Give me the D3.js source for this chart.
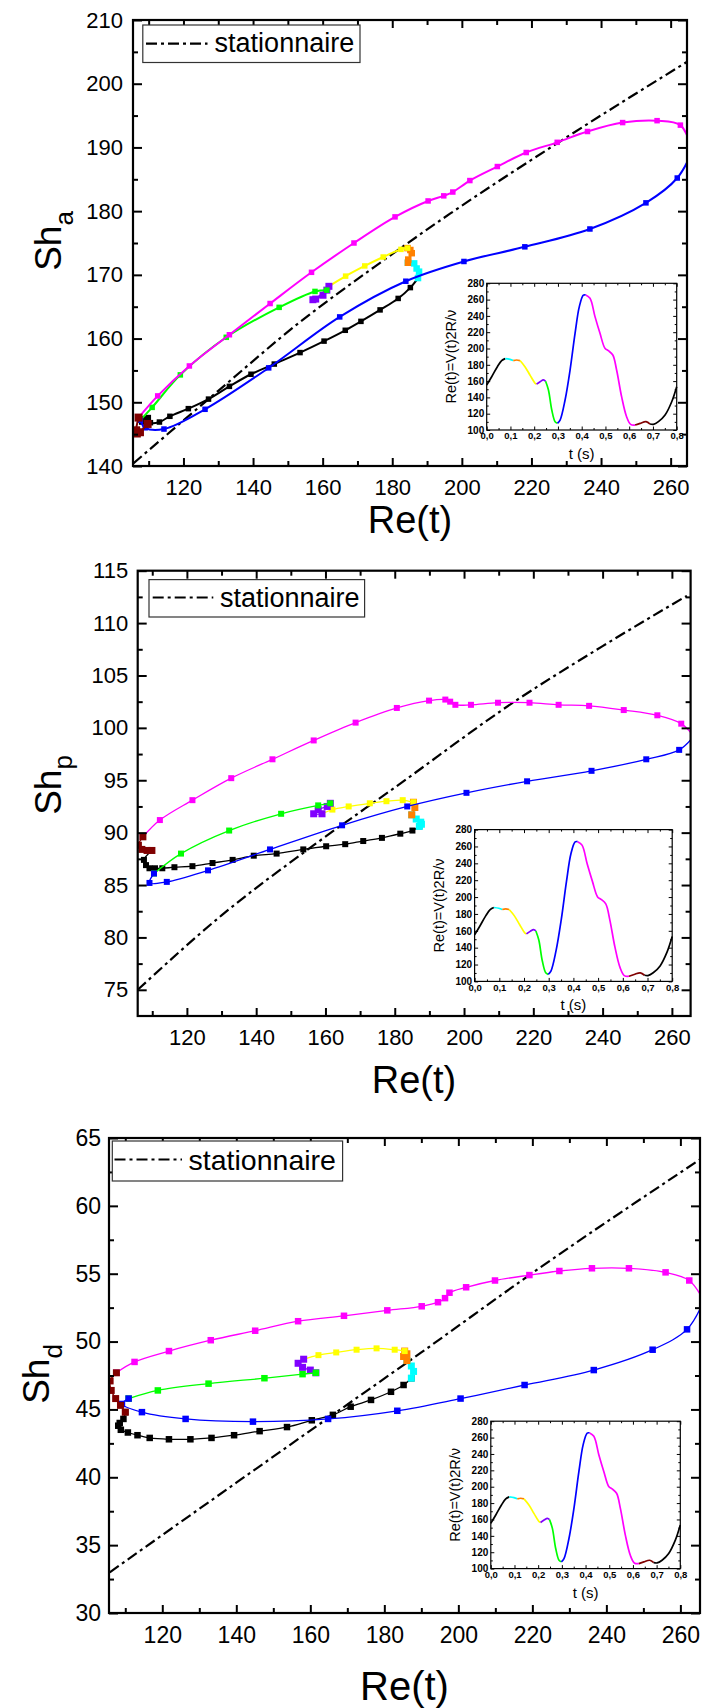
<!DOCTYPE html>
<html><head><meta charset="utf-8">
<script src="https://cdn.jsdelivr.net/npm/d3@7"></script>
<style>
body{margin:0;background:#fff;}
svg{display:block;font-family:"Liberation Sans",Arial,sans-serif;}
</style></head><body>
<svg id="c" width="704" height="1708"></svg>
<script>
// ---------- tick labels ----------
const xTicks = [120,140,160,180,200,220,240,260];
const aTicks = [140,150,160,170,180,190,200,210];
const pTicks = [75,80,85,90,95,100,105,110,115];
const dTicks = [30,35,40,45,50,55,60,65];
const insetXTicks = [0,0.1,0.2,0.3,0.4,0.5,0.6,0.7,0.8];
const insetYTicks = [100,120,140,160,180,200,220,240,260,280];
const legendLabel = "stationnaire";

// ---------- panel a : Sh_a vs Re ----------
const aStat = [[105.6,140.4],[130,151.8],[153.5,162.6],[175,171.3],[196.6,179.6],[228.4,191.0],[265.2,203.6]];
const aBlack = [[109.7,146.6],[108.0,146.9],[108.6,147.4],[109.9,147.6],[110.5,146.8],[113.1,146.9],[116.1,147.8],[121.4,149.0],[127.2,150.5],[133.2,152.5],[139.4,154.4],[146.1,156.0],[153.5,157.8],[160.4,159.6],[166.5,161.3],[171.0,162.7],[176.5,164.5],[181.7,166.3],[185.2,168.0],[187.4,169.5]];
const aCyan = [[187.4,169.5],[187.7,170.5],[187.0,171.0],[186.3,171.8],[184.5,171.9]];
const aOrange = [[184.5,171.9],[184.6,172.4],[185.6,173.4],[185.2,173.9],[184.4,174.2]];
const aYellow = [[184.4,174.2],[182.5,174.0],[177.4,172.8],[172.1,171.4],[166.6,169.8],[161.8,168.2]];
const aPurple = [[161.8,168.2],[158.0,166.2],[157.2,166.1],[160.1,166.8],[161.2,167.6]];
const aGreen = [[161.2,167.6],[157.8,167.4],[147.5,164.9],[132.3,160.2],[119.1,154.3],[111.0,149.2],[107.6,147.2]];
const aBlue = [[107.6,147.2],[109.0,146.0],[114.4,145.8],[126.2,148.9],[144.5,155.4],[164.9,163.4],[183.9,169.0],[200.6,172.1],[218.1,174.4],[236.8,177.2],[252.9,181.3],[261.9,185.2],[266.3,189.5]];
const aMagenta = [[266.3,189.5],[262.8,193.5],[256.1,194.2],[246.2,193.9],[236.1,192.5],[227.4,190.8],[218.5,189.2],[210.2,187.0],[202.3,184.8],[197.4,183.0],[194.8,182.4],[190.3,181.6],[180.8,179.1],[169.0,175.0],[156.8,170.4],[144.9,165.5],[133.2,160.6],[121.7,155.7],[112.6,151.0],[107.1,147.6]];
const aDarkred = [[107.1,147.6],[106.4,145.6],[106.6,145.1],[107.5,145.3],[109.7,146.6]];

// ---------- panel p : Sh_p vs Re ----------
const pStat = [[105.8,75.0],[130,82.1],[156.6,88.8],[180,94.3],[215,102.6],[240,107.8],[264.3,112.6]];
const pBlack = [[109.9,88.3],[107.6,87.4],[108.2,86.9],[109.2,86.6],[110.8,86.6],[112.9,86.6],[116.4,86.7],[121.6,86.8],[127.4,87.1],[133.2,87.4],[139.3,87.8],[145.9,88.0],[153.6,88.4],[160.2,88.7],[165.7,88.9],[170.9,89.2],[176.3,89.5],[181.6,89.9],[185.1,90.2],[187.1,90.6]];
const pCyan = [[187.1,90.6],[187.7,90.8],[187.5,91.0],[186.2,91.3],[184.9,91.7]];
const pOrange = [[184.9,91.7],[185.8,92.4],[185.4,92.9]];
const pYellow = [[185.4,92.9],[182.3,93.1],[177.6,93.0],[172.8,92.8],[166.7,92.5],[162.0,92.2],[159.0,91.8]];
const pPurple = [[159.0,91.8],[156.6,91.8],[157.9,92.2],[160.5,92.5],[161.4,92.8]];
const pGreen = [[161.4,92.8],[157.9,92.6],[147.2,91.8],[132.2,90.2],[118.3,88.0],[110.5,86.1]];
const pBlue = [[110.5,86.1],[109.2,85.2],[114.2,85.3],[126.1,86.4],[144.0,88.4],[164.8,90.7],[183.6,92.5],[200.7,93.8],[218.2,94.9],[236.8,95.9],[252.6,97.0],[262.1,97.9],[266.3,99.2]];
const pMagenta = [[266.3,99.2],[262.7,100.4],[255.8,101.2],[246.1,101.7],[236.1,102.1],[227.3,102.2],[218.9,102.4],[209.8,102.4],[202.0,102.2],[197.5,102.2],[196.0,102.5],[194.6,102.7],[189.9,102.6],[180.6,101.9],[168.7,100.5],[156.6,98.8],[144.7,97.0],[132.8,95.2],[121.6,93.1],[112.2,91.2],[107.3,89.6]];
const pDarkred = [[107.3,89.6],[106.0,88.8],[107.0,88.4],[108.5,88.3],[109.9,88.3]];

// ---------- panel d : Sh_d vs Re ----------
const dStat = [[105.8,33.0],[140,39.6],[165.5,44.5],[190,49.2],[219.2,54.9],[265.2,63.4]];
const dBlack = [[110.0,44.8],[109.5,44.3],[108.5,44.0],[108.1,43.8],[108.8,43.5],[110.7,43.3],[113.3,43.1],[116.6,42.9],[121.8,42.8],[127.6,42.8],[133.3,42.9],[139.4,43.1],[146.3,43.4],[153.7,43.7],[160.4,44.2],[166.1,44.6],[170.9,45.2],[176.4,45.7],[181.8,46.3],[185.2,46.8],[187.3,47.3]];
const dCyan = [[187.3,47.3],[187.9,47.8],[187.3,48.2],[186.1,48.6]];
const dOrange = [[186.1,48.6],[185.2,48.9],[186.1,49.1],[185.5,49.3]];
const dYellow = [[185.5,49.3],[182.8,49.4],[177.9,49.5],[172.5,49.4],[167.0,49.2],[162.2,49.0],[158.2,48.7]];
const dPurple = [[158.2,48.7],[156.7,48.4],[157.9,48.1],[160.0,47.9],[161.5,47.7]];
const dGreen = [[161.5,47.7],[157.9,47.6],[147.6,47.3],[132.5,46.9],[118.8,46.4],[110.9,45.8]];
const dBlue = [[110.9,45.8],[109.1,45.4],[114.5,44.8],[126.3,44.3],[144.5,44.1],[164.8,44.3],[183.5,44.9],[200.6,45.8],[217.9,46.8],[236.6,47.9],[252.5,49.4],[261.8,50.9],[266.3,53.0]];
const dMagenta = [[266.3,53.0],[262.4,54.5],[256.0,55.1],[246.1,55.4],[236.1,55.4],[227.3,55.2],[219.2,54.9],[209.9,54.5],[202.1,54.0],[197.6,53.6],[196.4,53.2],[194.5,52.9],[190.1,52.6],[180.8,52.3],[169.1,51.9],[156.7,51.5],[145.1,50.8],[133.1,50.1],[121.8,49.3],[112.5,48.5],[107.6,47.7]];
const dDarkred = [[107.6,47.7],[105.9,47.1],[106.2,46.4],[107.4,45.8],[108.7,45.3],[110.0,44.8]];

// ---------- inset : Re(t) vs t ----------
const insetBlackA = [[0,155.2],[0.021,165.4],[0.045,177.7],[0.063,185.1],[0.078,187.6]];
const insetCyan = [[0.078,187.6],[0.098,186.7],[0.112,185.2]];
const insetOrange = [[0.112,185.2],[0.126,185.9],[0.14,185.2]];
const insetYellow = [[0.14,185.2],[0.161,177.7],[0.182,167.5],[0.204,157.3],[0.21,156.3]];
const insetPurple = [[0.21,156.3],[0.225,159.3],[0.239,161.4],[0.248,159.8]];
const insetGreen = [[0.248,159.8],[0.26,149.1],[0.274,124.5],[0.288,110.2],[0.298,108.3]];
const insetBlue = [[0.298,108.3],[0.309,112.2],[0.33,136.8],[0.351,173.6],[0.372,218.6],[0.39,251.4],[0.407,265.5],[0.417,265.7]];
const insetMagenta = [[0.417,265.7],[0.435,261.6],[0.456,239.1],[0.477,218.6],[0.498,200.2],[0.512,197.3],[0.531,192.0],[0.547,173.6],[0.568,140.9],[0.589,116.3],[0.606,106.9],[0.625,106.1]];
const insetDarkred = [[0.625,106.1],[0.646,108.2],[0.671,110.2],[0.688,107.3]];
const insetBlackB = [[0.688,107.3],[0.702,106.9],[0.723,110.2],[0.751,118.4],[0.779,134.7],[0.8,153.2]];

// ---------- colours ----------
const C = {black:"#000000", cyan:"#00ffff", orange:"#ff8000", yellow:"#ffff00", purple:"#8000ff",
           green:"#00ff00", blue:"#0000ff", magenta:"#ff00ff", darkred:"#800000"};

const svg = d3.select("#c");
const FONT = "'Liberation Sans', Arial, sans-serif";
const commaFmt = d => d3.format(".1f")(d).replace(".", ",");

const insetSegs = [[insetBlackA,C.black],[insetCyan,C.cyan],[insetOrange,C.orange],[insetYellow,C.yellow],
  [insetPurple,C.purple],[insetGreen,C.green],[insetBlue,C.blue],[insetMagenta,C.magenta],[insetDarkred,C.darkred],[insetBlackB,C.black]];

function styleAxis(a, fs, bold, tw) {
  a.select(".domain").remove();
  a.attr("font-family", FONT).attr("font-size", fs);
  a.selectAll("line").attr("stroke", "#000").attr("stroke-width", tw);
  a.selectAll("text").attr("fill", "#000").attr("font-weight", bold ? "bold" : "normal");
  return a;
}

function drawInset(g, b) {
  const x = d3.scaleLinear().domain([0, 0.8]).range([b.L, b.R]);
  const y = d3.scaleLinear().domain([100, 280]).range([b.B, b.T]);
  g.append("rect").attr("x", b.L).attr("y", b.T).attr("width", b.R - b.L).attr("height", b.B - b.T).attr("fill", "#fff");
  const line = d3.line().x(d => x(d[0])).y(d => y(d[1])).curve(d3.curveCatmullRom.alpha(0.5));
  insetSegs.forEach(([pts, col]) => {
    g.append("path").datum(pts).attr("d", line).attr("fill", "none").attr("stroke", col).attr("stroke-width", 1.7);
  });
  const xMinor = d3.range(0.05, 0.8, 0.1);
  const yMinor = d3.range(110, 280, 20);
  styleAxis(g.append("g").attr("transform", `translate(0,${b.B})`).call(d3.axisBottom(x).tickValues(insetXTicks).tickSize(-3.5).tickPadding(2.5).tickFormat(commaFmt)), 9.5, true, 1);
  styleAxis(g.append("g").attr("transform", `translate(0,${b.B})`).call(d3.axisBottom(x).tickValues(xMinor).tickSize(-2).tickFormat("")), 9.5, true, 1);
  styleAxis(g.append("g").attr("transform", `translate(0,${b.T})`).call(d3.axisTop(x).tickValues(insetXTicks).tickSize(-3.5).tickFormat("")), 9.5, true, 1);
  styleAxis(g.append("g").attr("transform", `translate(0,${b.T})`).call(d3.axisTop(x).tickValues(xMinor).tickSize(-2).tickFormat("")), 9.5, true, 1);
  styleAxis(g.append("g").attr("transform", `translate(${b.L},0)`).call(d3.axisLeft(y).tickValues(insetYTicks).tickSize(-3.5).tickPadding(2.5).tickFormat(d3.format("d"))), 10, true, 1);
  styleAxis(g.append("g").attr("transform", `translate(${b.L},0)`).call(d3.axisLeft(y).tickValues(yMinor).tickSize(-2).tickFormat("")), 10, true, 1);
  styleAxis(g.append("g").attr("transform", `translate(${b.R},0)`).call(d3.axisRight(y).tickValues(insetYTicks).tickSize(-3.5).tickFormat("")), 10, true, 1);
  styleAxis(g.append("g").attr("transform", `translate(${b.R},0)`).call(d3.axisRight(y).tickValues(yMinor).tickSize(-2).tickFormat("")), 10, true, 1);
  g.append("rect").attr("x", b.L).attr("y", b.T).attr("width", b.R - b.L).attr("height", b.B - b.T)
    .attr("fill", "none").attr("stroke", "#000").attr("stroke-width", 1.2);
  g.append("text").attr("transform", `translate(${b.L - 31},${(b.T + b.B) / 2}) rotate(-90)`)
    .attr("text-anchor", "middle").attr("font-family", FONT).attr("font-size", 14.5).attr("fill", "#000")
    .text("Re(t)=V(t)2R/ν");
  g.append("text").attr("x", (b.L + b.R) / 2).attr("y", b.B + 29).attr("text-anchor", "middle")
    .attr("font-family", FONT).attr("font-size", 15).attr("fill", "#000").text("t (s)");
}

function drawPanel(p) {
  const g = svg.append("g");
  const x = d3.scaleLinear().domain(p.xDomain).range([p.L, p.R]);
  const y = d3.scaleLinear().domain(p.yDomain).range([p.B, p.T]);
  const cid = "clip-" + p.id;
  g.append("clipPath").attr("id", cid).append("rect").attr("x", p.L).attr("y", p.T).attr("width", p.R - p.L).attr("height", p.B - p.T);
  const plot = g.append("g").attr("clip-path", `url(#${cid})`);
  plot.append("path").datum(p.stat).attr("fill", "none").attr("stroke", "#000").attr("stroke-width", 2.2)
    .attr("stroke-dasharray", "11,4,3,4")
    .attr("d", d3.line().x(d => x(d[0])).y(d => y(d[1])).curve(d3.curveMonotoneX));
  const line = d3.line().x(d => x(d[0])).y(d => y(d[1])).curve(d3.curveCatmullRom.alpha(0.5));
  p.series.forEach(([pts, col, ms]) => {
    plot.append("path").datum(pts).attr("d", line).attr("fill", "none").attr("stroke", col)
      .attr("stroke-width", p.lw).attr("stroke-linejoin", "round");
    plot.selectAll(null).data(pts).enter().append("rect")
      .attr("x", d => x(d[0]) - ms / 2).attr("y", d => y(d[1]) - ms / 2)
      .attr("width", ms).attr("height", ms).attr("fill", col);
  });

  // axes (inward ticks on all four sides)
  const xMinor = d3.range(110, 265, 20);
  const yStep = p.yTicks[1] - p.yTicks[0];
  const yMinor = p.yTicks.slice(0, -1).map(v => v + yStep / 2);
  styleAxis(g.append("g").attr("transform", `translate(0,${p.B})`).call(d3.axisBottom(x).tickValues(xTicks).tickSize(-8).tickPadding(13.5).tickFormat(d3.format("d"))), p.fs, false, 2);
  styleAxis(g.append("g").attr("transform", `translate(0,${p.B})`).call(d3.axisBottom(x).tickValues(xMinor).tickSize(-5).tickFormat("")), p.fs, false, 2);
  styleAxis(g.append("g").attr("transform", `translate(0,${p.T})`).call(d3.axisTop(x).tickValues(xTicks).tickSize(-8).tickFormat("")), p.fs, false, 2);
  styleAxis(g.append("g").attr("transform", `translate(0,${p.T})`).call(d3.axisTop(x).tickValues(xMinor).tickSize(-5).tickFormat("")), p.fs, false, 2);
  styleAxis(g.append("g").attr("transform", `translate(${p.L},0)`).call(d3.axisLeft(y).tickValues(p.yTicks).tickSize(-9).tickPadding(p.ypad).tickFormat(d3.format("d"))), p.fs, false, 2);
  styleAxis(g.append("g").attr("transform", `translate(${p.L},0)`).call(d3.axisLeft(y).tickValues(yMinor).tickSize(-5).tickFormat("")), p.fs, false, 2);
  styleAxis(g.append("g").attr("transform", `translate(${p.R},0)`).call(d3.axisRight(y).tickValues(p.yTicks).tickSize(-9).tickFormat("")), p.fs, false, 2);
  styleAxis(g.append("g").attr("transform", `translate(${p.R},0)`).call(d3.axisRight(y).tickValues(yMinor).tickSize(-5).tickFormat("")), p.fs, false, 2);
  g.append("rect").attr("x", p.L).attr("y", p.T).attr("width", p.R - p.L).attr("height", p.B - p.T)
    .attr("fill", "none").attr("stroke", "#000").attr("stroke-width", 2.2);

  // titles
  g.append("text").attr("x", p.xt[0]).attr("y", p.xt[1]).attr("text-anchor", "middle")
    .attr("font-family", FONT).attr("font-size", p.xtfs).attr("fill", "#000").text("Re(t)");
  const yt = g.append("text").attr("transform", `translate(${p.yt[0]},${p.yt[1]}) rotate(-90)`)
    .attr("text-anchor", "middle").attr("font-family", FONT).attr("font-size", 37).attr("fill", "#000");
  yt.append("tspan").text("Sh");
  yt.append("tspan").attr("font-size", 26).attr("dy", p.subdy).text(p.sub);

  // legend
  const lg = p.leg;
  g.append("rect").attr("x", lg[0]).attr("y", lg[1]).attr("width", lg[2] - lg[0]).attr("height", lg[3] - lg[1])
    .attr("fill", "#fff").attr("stroke", "#333").attr("stroke-width", 1.2);
  g.append("line").attr("x1", lg[4]).attr("x2", lg[5]).attr("y1", lg[6]).attr("y2", lg[6])
    .attr("stroke", "#000").attr("stroke-width", 2.2).attr("stroke-dasharray", "11,4,3,4");
  g.append("text").attr("x", lg[7]).attr("y", lg[8]).attr("font-family", FONT).attr("font-size", lg[9])
    .attr("fill", "#000").text(legendLabel);

  drawInset(g, p.inset);
}

drawPanel({id:"a", L:133, R:687, T:20, B:466, xDomain:[105.5,264.7], yDomain:[140,210], yTicks:aTicks,
  lw:2, fs:22, ypad:10, xt:[410,533], xtfs:38, yt:[60.5,241], sub:"a", subdy:12,
  stat:aStat,
  series:[[aBlack,C.black,5.5],[aCyan,C.cyan,6.5],[aOrange,C.orange,6.5],[aYellow,C.yellow,5.5],[aPurple,C.purple,7],
          [aGreen,C.green,5.5],[aBlue,C.blue,5.5],[aMagenta,C.magenta,5.5],[aDarkred,C.darkred,8]],
  leg:[142.8,25,360,62.5,146,207.5,43.6,214.6,52,27],
  inset:{L:486.7,R:676.7,T:283.3,B:430}});

drawPanel({id:"p", L:137.7, R:690.6, T:570.7, B:1016, xDomain:[105.8,265.4], yDomain:[72.5,115], yTicks:pTicks,
  lw:1.3, fs:22, ypad:9.5, xt:[414,1093], xtfs:38, yt:[60.6,785], sub:"p", subdy:11,
  stat:pStat,
  series:[[pBlack,C.black,6],[pCyan,C.cyan,7],[pOrange,C.orange,7],[pYellow,C.yellow,6],[pPurple,C.purple,7],
          [pGreen,C.green,6],[pBlue,C.blue,6],[pMagenta,C.magenta,6],[pDarkred,C.darkred,7]],
  leg:[149,579.6,364.6,617,152.7,213.3,597.5,220,606.5,27],
  inset:{L:474.6,R:672.2,T:829.6,B:981.4}});

drawPanel({id:"d", L:109, R:700, T:1138, B:1613, xDomain:[105.6,265.3], yDomain:[30,65], yTicks:dTicks,
  lw:1.3, fs:23, ypad:8, xt:[404.5,1700], xtfs:40, yt:[48.5,1374], sub:"d", subdy:13,
  stat:dStat,
  series:[[dBlack,C.black,6.5],[dCyan,C.cyan,7],[dOrange,C.orange,7],[dYellow,C.yellow,6],[dPurple,C.purple,7],
          [dGreen,C.green,6.5],[dBlue,C.blue,6.5],[dMagenta,C.magenta,6.5],[dDarkred,C.darkred,7]],
  leg:[112.3,1141,342.6,1181,114.5,182,1159.5,188.6,1169.5,28.5],
  inset:{L:490.8,R:680.3,T:1421.2,B:1568.6}});
</script>
</body></html>
